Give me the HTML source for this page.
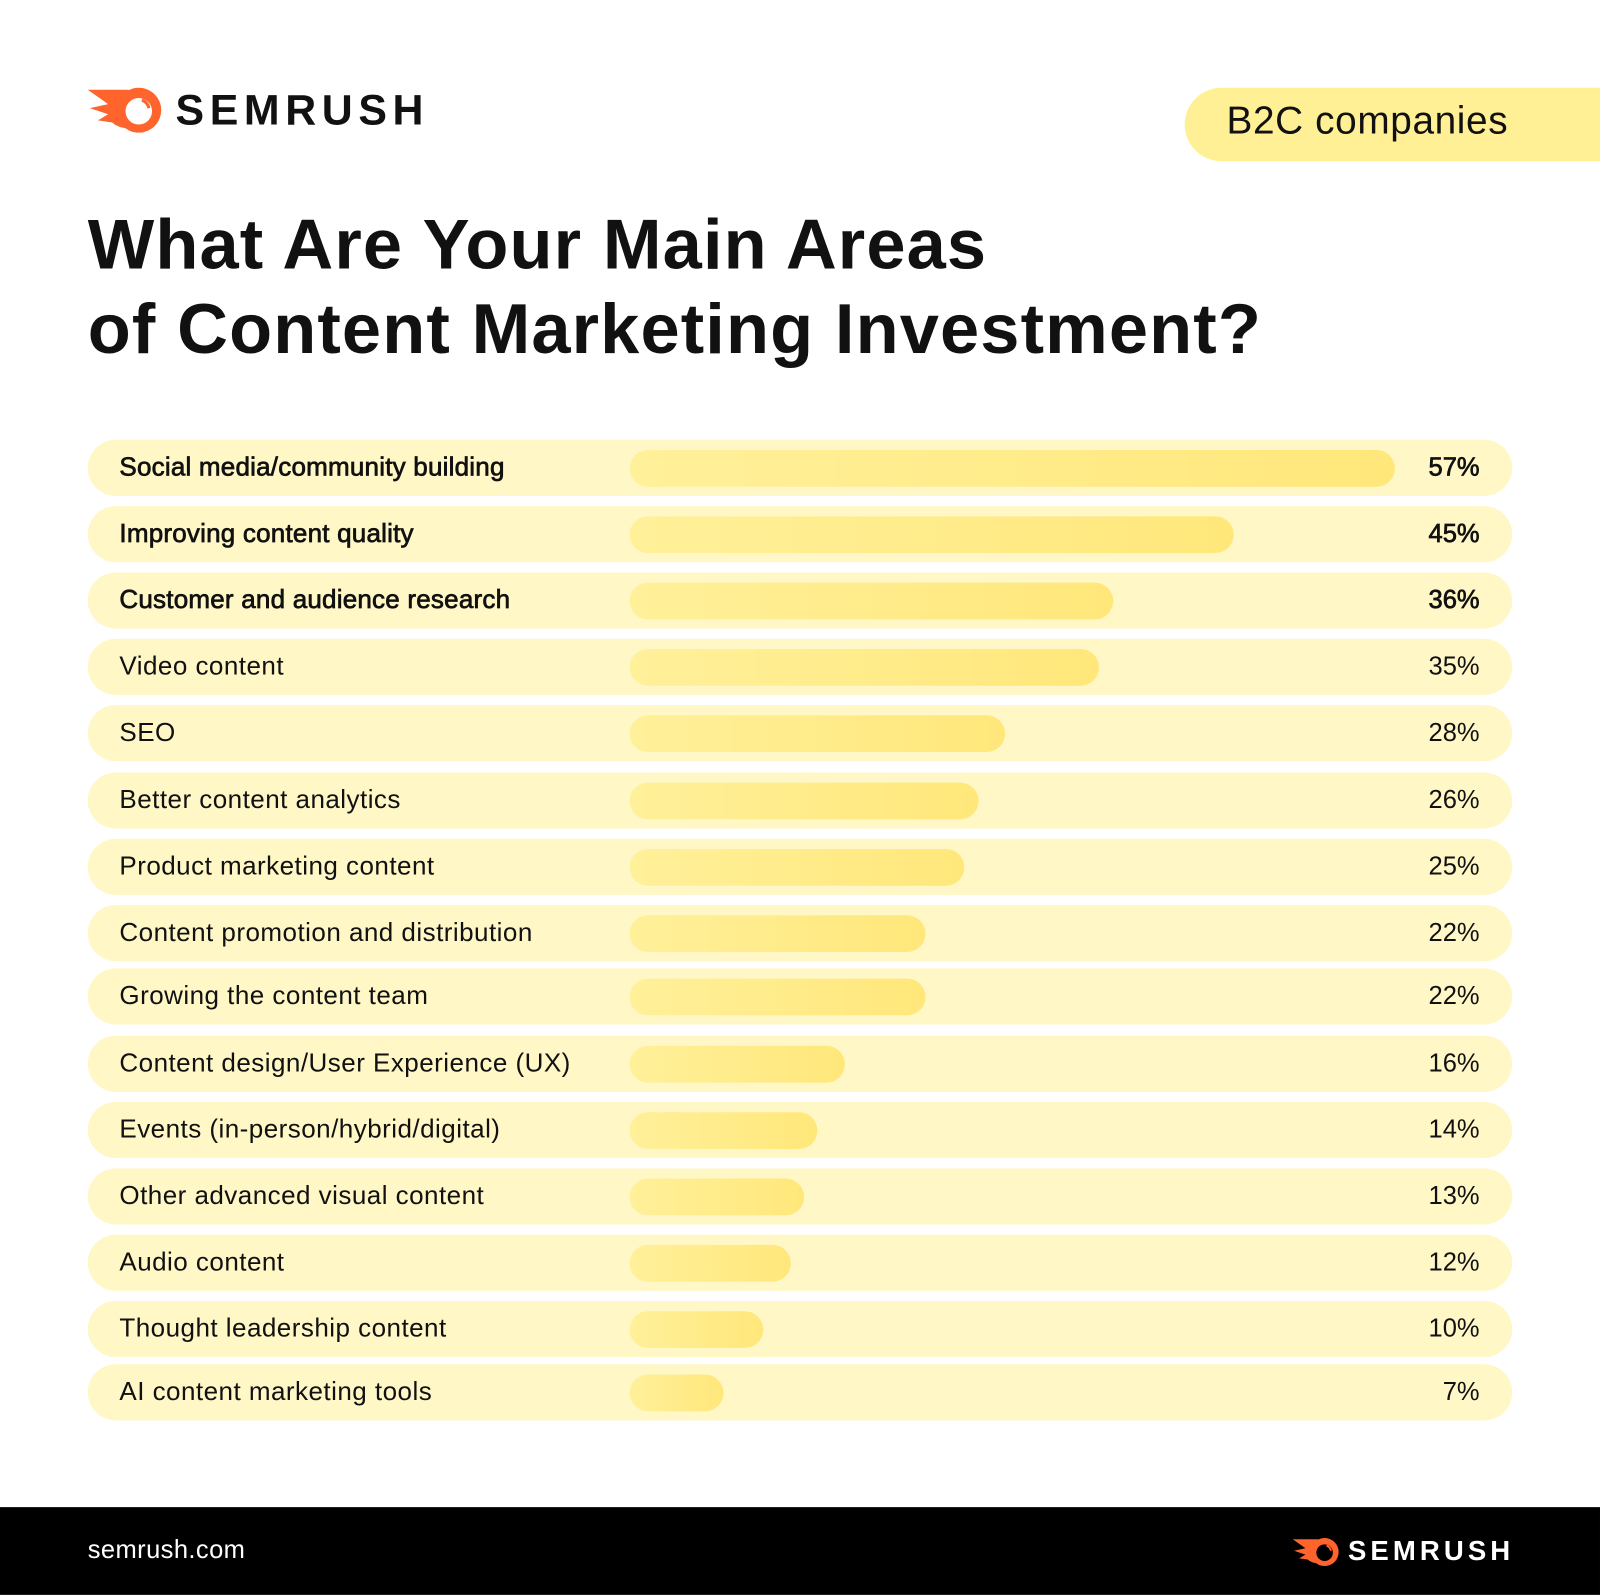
<!DOCTYPE html>
<html><head><meta charset="utf-8"><style>
html,body{margin:0;padding:0;background:#fff;}
body{width:1600px;height:1595px;overflow:hidden;position:relative;font-family:"Liberation Sans",sans-serif;}
#w{position:absolute;left:0;top:0;width:1568px;height:1563px;transform:scale(1.0204);transform-origin:0 0;}
.row{position:absolute;left:86px;width:1396px;height:55px;border-radius:28px;background:#fff7c6;}
.lab{position:absolute;left:31px;top:0;line-height:55px;font-size:25.5px;letter-spacing:0.45px;color:#111;}
.bar{position:absolute;left:531px;top:9.5px;height:36px;border-radius:18px;background:linear-gradient(90deg,#fff09a,#ffe77a);}
.pct{position:absolute;right:32px;top:0;line-height:55px;font-size:25px;color:#111;}
.b .lab,.b .pct{-webkit-text-stroke:0.7px #111;}
.b .lab{letter-spacing:0.2px;}
</style></head><body><div id="w">
<svg style="position:absolute;left:84px;top:84px" width="78" height="48" viewBox="0 0 78 48">
<path d="M2 4 L40 4 C48 4 52 8 52 8 L52 40 C40 44 30 40 26 36 L12 34 L22 28 L4 22 L22 18 Z" fill="#ff642d"/>
<circle cx="52" cy="24" r="22" fill="#ff642d"/><circle cx="52" cy="25" r="13" fill="#fff"/>
<path d="M55 14 A11 11 0 0 1 62 22" stroke="#ff642d" stroke-width="3" fill="none"/></svg>
<div style="position:absolute;left:172px;top:84px;font-size:42px;font-weight:bold;letter-spacing:5.5px;color:#111">SEMRUSH</div>
<div style="position:absolute;left:1161px;top:86px;width:420px;height:72px;border-radius:36px 0 0 36px;background:#fff095"></div>
<div style="position:absolute;left:1202px;top:98px;font-size:38px;letter-spacing:0.6px;color:#111">B2C companies</div>
<div style="position:absolute;left:86px;top:198px;font-size:69px;font-weight:bold;line-height:83px;color:#111;letter-spacing:1.1px">What Are Your Main Areas<br>of Content Marketing Investment?</div>

<div class="row b" style="top:431px"><div class="lab">Social media/community building</div><div class="bar" style="width:750px"></div><div class="pct">57%</div></div>
<div class="row b" style="top:496px"><div class="lab">Improving content quality</div><div class="bar" style="width:592px"></div><div class="pct">45%</div></div>
<div class="row b" style="top:561px"><div class="lab">Customer and audience research</div><div class="bar" style="width:474px"></div><div class="pct">36%</div></div>
<div class="row" style="top:626px"><div class="lab">Video content</div><div class="bar" style="width:460px"></div><div class="pct">35%</div></div>
<div class="row" style="top:691px"><div class="lab">SEO</div><div class="bar" style="width:368px"></div><div class="pct">28%</div></div>
<div class="row" style="top:757px"><div class="lab">Better content analytics</div><div class="bar" style="width:342px"></div><div class="pct">26%</div></div>
<div class="row" style="top:822px"><div class="lab">Product marketing content</div><div class="bar" style="width:328px"></div><div class="pct">25%</div></div>
<div class="row" style="top:887px"><div class="lab">Content promotion and distribution</div><div class="bar" style="width:290px"></div><div class="pct">22%</div></div>
<div class="row" style="top:949px"><div class="lab">Growing the content team</div><div class="bar" style="width:290px"></div><div class="pct">22%</div></div>
<div class="row" style="top:1015px"><div class="lab">Content design/User Experience (UX)</div><div class="bar" style="width:211px"></div><div class="pct">16%</div></div>
<div class="row" style="top:1080px"><div class="lab">Events (in-person/hybrid/digital)</div><div class="bar" style="width:184px"></div><div class="pct">14%</div></div>
<div class="row" style="top:1145px"><div class="lab">Other advanced visual content</div><div class="bar" style="width:171px"></div><div class="pct">13%</div></div>
<div class="row" style="top:1210px"><div class="lab">Audio content</div><div class="bar" style="width:158px"></div><div class="pct">12%</div></div>
<div class="row" style="top:1275px"><div class="lab">Thought leadership content</div><div class="bar" style="width:131px"></div><div class="pct">10%</div></div>
<div class="row" style="top:1337px"><div class="lab">AI content marketing tools</div><div class="bar" style="width:92px"></div><div class="pct">7%</div></div>

<div style="position:absolute;left:0;top:1477px;width:1568px;height:86px;background:#000"></div>
<div style="position:absolute;left:86px;top:1505px;font-size:25px;letter-spacing:0.4px;color:#fff">semrush.com</div>
<svg style="position:absolute;left:1264px;top:1506px" width="52" height="30" viewBox="0 0 78 48">
<path d="M2 4 L40 4 C48 4 52 8 52 8 L52 40 C40 44 30 40 26 36 L12 34 L22 28 L4 22 L22 18 Z" fill="#ff642d"/>
<circle cx="52" cy="24" r="22" fill="#ff642d"/><circle cx="52" cy="25" r="13" fill="#000"/>
<path d="M55 14 A11 11 0 0 1 62 22" stroke="#ff642d" stroke-width="3" fill="none"/></svg>
<div style="position:absolute;left:1321px;top:1505px;font-size:27px;font-weight:bold;color:#fff;letter-spacing:4px">SEMRUSH</div>
</div></body></html>
